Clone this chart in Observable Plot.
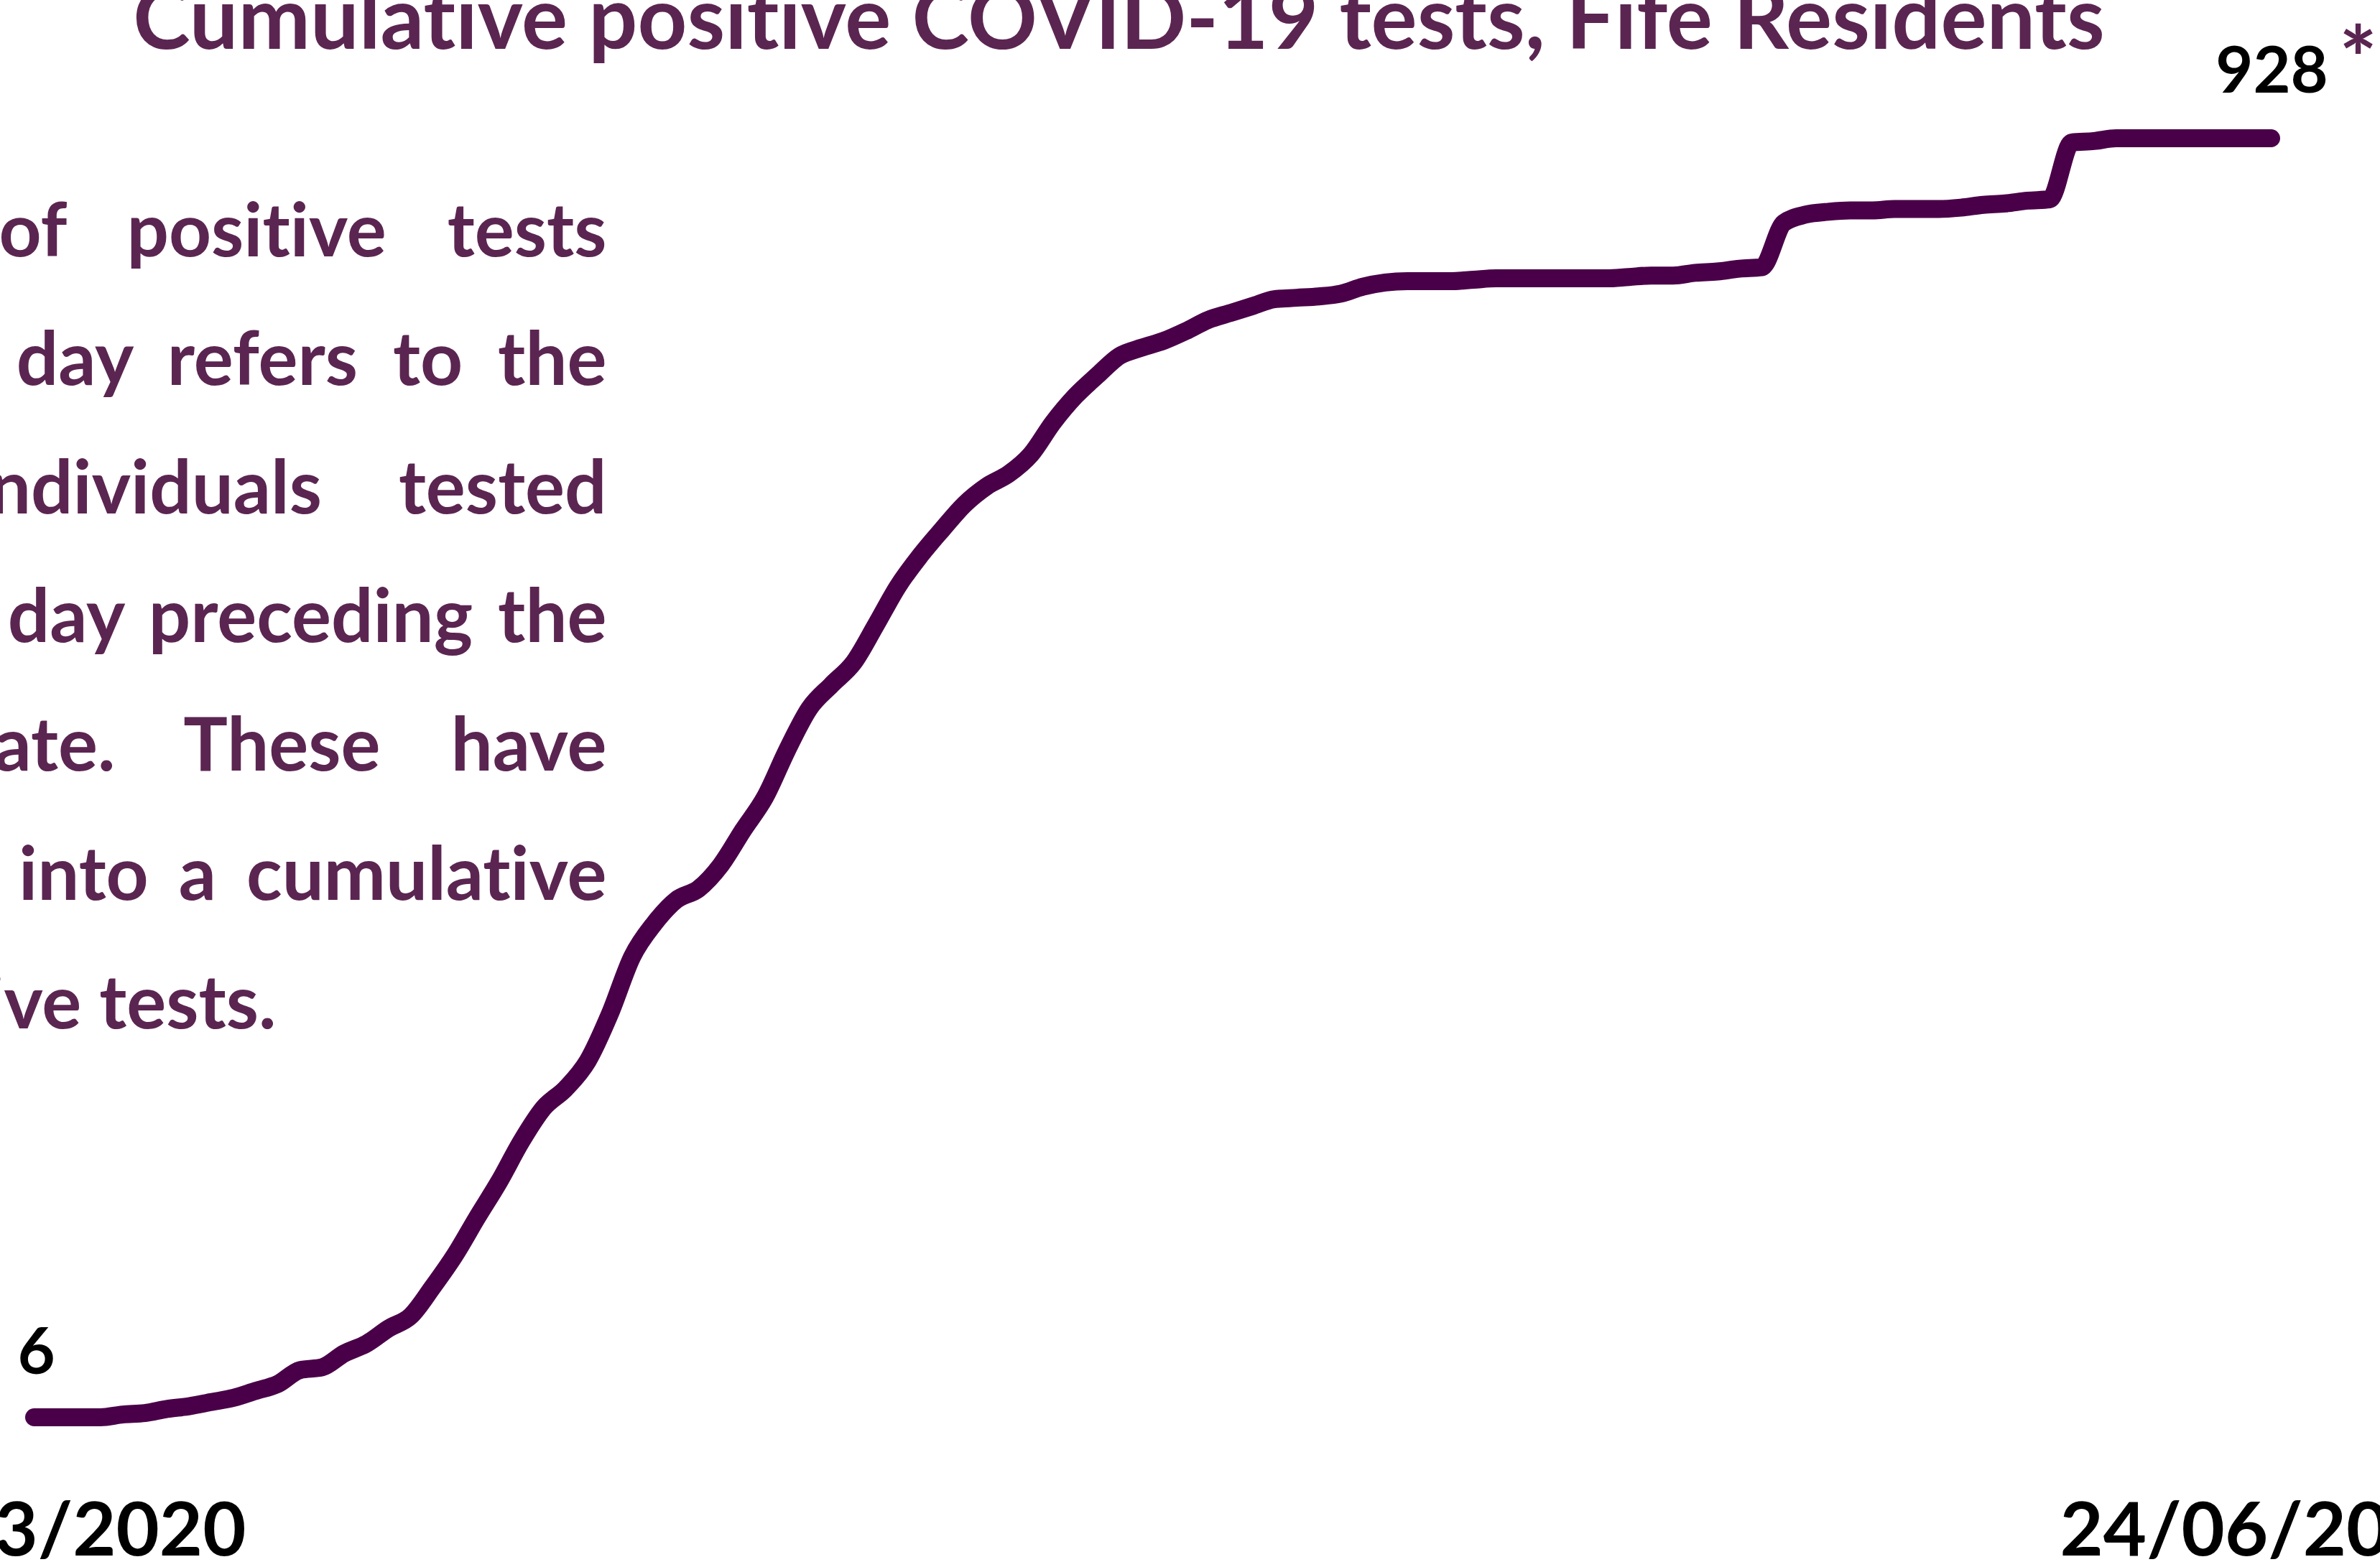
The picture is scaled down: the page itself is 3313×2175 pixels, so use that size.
<!DOCTYPE html>
<html>
<head>
<meta charset="utf-8">
<script src="https://cdn.jsdelivr.net/npm/d3@7"></script>
<script src="https://cdn.jsdelivr.net/npm/@observablehq/plot@0.6"></script>
<style>
  html, body { margin: 0; padding: 0; width: 3313px; height: 2175px; overflow: hidden; background: #ffffff; }
  #chart { position: absolute; left: 0; top: 0; }
  #chart svg text { font-variant-ligatures: none; font-feature-settings: "liga" 0, "clig" 0; }
</style>
</head>
<body>
<div id="chart"></div>
<script>
// ---- data ----
const firstDay = "2020-03-15";
const lastDay = "2020-06-24";
const cumulativePositive = [
  6, 6, 6, 6, 8, 9, 12, 14, 17, 20,
  25, 30, 40, 42, 52, 59, 70, 79, 100, 123,
  150, 176, 205, 229, 243, 263, 297, 338, 362, 379,
  387, 404, 429, 453, 487, 517, 534, 550, 577, 605,
  627, 646, 664, 677, 686, 700, 723, 742, 757, 771,
  777, 782, 789, 797, 802, 807, 812, 813, 814, 816,
  821, 824, 825, 825, 825, 826, 827, 827, 827, 827,
  827, 827, 828, 829, 829, 831, 832, 834, 835, 867,
  873, 875, 876, 876, 877, 877, 877, 878, 880, 881,
  883, 884, 925, 926, 928, 928, 928, 928, 928, 928,
  928, 928
];
const dateLabels = ["15/03/2020", "24/06/2020"];
const titleText = "Cumulative positive COVID-19 tests, Fife Residents";
const noteLines = [
  "The number of positive tests",
  "reported each day refers to the",
  "number of individuals tested",
  "positive on the day preceding the",
  "reporting date. These have",
  "been combined into a cumulative",
  "total of positive tests."
];
const footnoteMark = "*";

// ---- styles ----
const lineColor = "#4a0048";
const textPurple = "#5b2551";
const noteWordSpacing = [60, 24, 82, 10, 73, 17, 0];

const days = d3.utcDay.range(new Date(firstDay), d3.utcDay.offset(new Date(lastDay), 1));
const series = cumulativePositive.map((v, i) => ({date: days[i], value: v}));
const first = series[0], last = series[series.length - 1];

const W = 3313, H = 2175;
const mL = 47, mR = 152, mT = 192, mB = 202;

const noteMarks = noteLines.map((line, i) => Plot.text([line], {
  frameAnchor: "top-left",
  dx: i === noteLines.length - 1 ? 384 - mL : 844 - mL,
  dy: 356 + i * 179.2 - mT,
  textAnchor: "end",
  lineAnchor: "bottom",
  fontSize: 103,
  fontWeight: 700,
  fontFamily: "Lato",
  fill: textPurple
}));

const plot = Plot.plot({
  width: W,
  height: H,
  marginLeft: mL,
  marginRight: mR,
  marginTop: mT,
  marginBottom: mB,
  style: {background: "#ffffff", fontFamily: "Lato", overflow: "visible"},
  x: {type: "utc", domain: [first.date, last.date], axis: null},
  y: {domain: [6, 928], axis: null},
  marks: [
    Plot.text([titleText], {
      frameAnchor: "top-left", dx: 1557 - mL, dy: 67 - mT,
      textAnchor: "middle", lineAnchor: "bottom",
      fontSize: 120, fontWeight: 700, fontFamily: "Lato", fill: textPurple
    }),
    ...noteMarks,
    Plot.line(series, {
      x: "date", y: "value", stroke: lineColor, strokeWidth: 25,
      strokeLinecap: "round", strokeLinejoin: "round", curve: "monotone-x"
    }),
    Plot.text([first], {
      x: "date", y: "value", text: d => String(d.value),
      dx: 3, dy: -61, textAnchor: "middle", lineAnchor: "bottom",
      fontSize: 90, fontWeight: 700, fontFamily: "Lato", fill: "#000"
    }),
    Plot.text([last], {
      x: "date", y: "value", text: d => String(d.value),
      dx: 1, dy: -64, textAnchor: "middle", lineAnchor: "bottom",
      fontSize: 90, fontWeight: 700, fontFamily: "Lato", fill: "#000"
    }),
    Plot.text([last], {
      x: "date", y: "value", text: () => footnoteMark,
      dx: 121, dy: -66, textAnchor: "middle", lineAnchor: "bottom",
      fontSize: 125, fontWeight: 700, fontFamily: "Lato", fill: textPurple
    }),
    Plot.text([first], {
      x: "date", y: "value", text: () => dateLabels[0],
      dx: 342 - mL, dy: 192, textAnchor: "end", lineAnchor: "bottom",
      fontSize: 104, fontWeight: 700, fontFamily: "Lato", fill: "#000"
    }),
    Plot.text([last], {
      x: "date", y: () => first.value, text: () => dateLabels[1],
      dx: 2867 - (W - mR), dy: 192, textAnchor: "start", lineAnchor: "bottom",
      fontSize: 104, fontWeight: 700, fontFamily: "Lato", fill: "#000"
    })
  ]
});

document.getElementById("chart").appendChild(plot);

// widen the word gaps of the justified note lines
const allTexts = Array.from(plot.querySelectorAll("text"));
noteLines.forEach((line, i) => {
  const t = allTexts.find(el => el.textContent === line);
  const extra = noteWordSpacing[i];
  if (!t || !extra) return;
  const before = t.getComputedTextLength();
  t.style.wordSpacing = extra + "px";
  const after = t.getComputedTextLength();
  if (Math.abs(after - before) < 1) {
    t.style.wordSpacing = "";
    const probe = t.cloneNode(false);
    probe.textContent = "\u200A".repeat(40);
    t.parentNode.appendChild(probe);
    const hair = probe.getComputedTextLength() / 40;
    probe.remove();
    if (hair > 0) {
      const n = Math.round(extra / hair);
      t.textContent = line.split(" ").join(" " + "\u200A".repeat(n));
    }
  }
});
</script>
</body>
</html>
